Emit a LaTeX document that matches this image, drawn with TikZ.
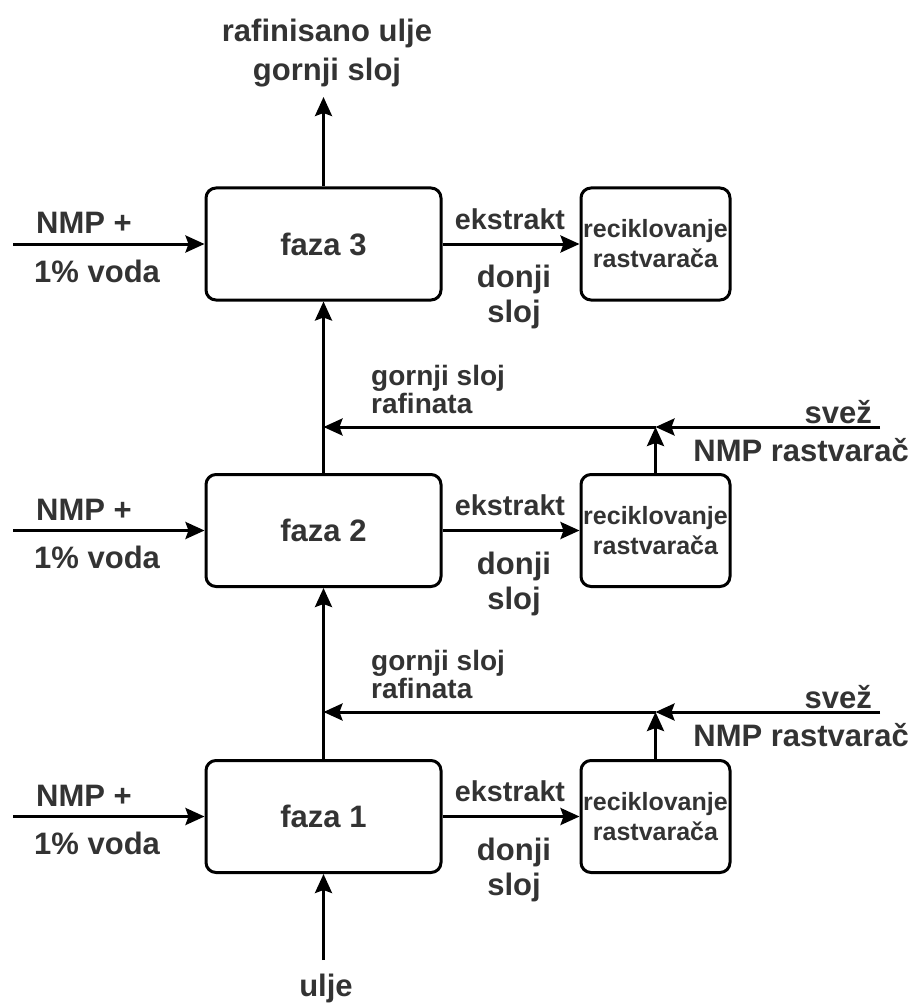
\documentclass[tikz,border=0pt]{standalone}
\usepackage{fontspec}
\setmainfont{Liberation Sans}
\usetikzlibrary{arrows.meta}
\definecolor{txt}{RGB}{51,51,51}
\begin{document}
\begin{tikzpicture}[x=1pt,y=-1pt,
  stage/.style={draw, line width=3pt, rounded corners=10pt, minimum width=235pt, minimum height=112pt, inner sep=0pt, text=txt, font=\bfseries\fontsize{31}{36}\selectfont},
  rec/.style={draw, line width=3pt, rounded corners=10pt, minimum width=149pt, minimum height=112pt, inner sep=0pt, align=center, text=txt, font=\bfseries\fontsize{25}{30}\selectfont},
  flow/.style={line width=3pt, -{Stealth[length=19pt,width=17pt,inset=3pt]}},
  lbl/.style={text=txt, inner sep=0pt, font=\bfseries\fontsize{31}{35}\selectfont},
  lbls/.style={text=txt, inner sep=0pt, font=\bfseries\fontsize{28}{28}\selectfont}]
\useasboundingbox (0,0) rectangle (911,1003);

% stages
\node[stage] (f3) at (323.5,244) {faza 3};
\node[stage] (f2) at (323.5,530.5) {faza 2};
\node[stage] (f1) at (323.5,816.5) {faza 1};
\node[rec] (r3) at (655.5,244) {reciklovanje\\rastvarača};
\node[rec] (r2) at (655.5,530.5) {reciklovanje\\rastvarača};
\node[rec] (r1) at (655.5,816.5) {reciklovanje\\rastvarača};

% free ends
\coordinate (out) at (323.5,97);
\coordinate (oil) at (323.5,960);
\coordinate (in3) at (13,244);
\coordinate (in2) at (13,530.5);
\coordinate (in1) at (13,816.5);
\coordinate (j2) at (655.5,427);
\coordinate (j1) at (655.5,712);
\coordinate (s2) at (880,427);
\coordinate (s1) at (880,712);

% connectors
\draw[flow] (f3.north) -- (out);
\draw[flow] (f2.north) -- (f3.south);
\draw[flow] (f1.north) -- (f2.south);
\draw[flow] (oil) -- (f1.south);
\draw[flow] (in3) -- (f3.west);
\draw[flow] (in2) -- (f2.west);
\draw[flow] (in1) -- (f1.west);
\draw[flow] (f3.east) -- (r3.west);
\draw[flow] (f2.east) -- (r2.west);
\draw[flow] (f1.east) -- (r1.west);
\draw[flow] (s2) -- (j2);
\draw[flow] (s1) -- (j1);
\draw[flow] (r2.north) -- (j2);
\draw[flow] (r1.north) -- (j1);
\draw[flow] (j2) -- (j2 -| f2.north);
\draw[flow] (j1) -- (j1 -| f1.north);

% labels
\node[lbl, align=center, font=\bfseries\fontsize{31}{39}\selectfont] (top) at (327,53) {rafinisano ulje\\gornji sloj};
\node[lbl] (ulje) at (326,988) {ulje};

\node[lbl, anchor=west] (n3) at (36,223) {NMP +};
\node[lbl, anchor=west] (v3) at (34,271) {1\% voda};
\node[lbl, anchor=west] (n2) at (36,509.5) {NMP +};
\node[lbl, anchor=west] (v2) at (34,557.5) {1\% voda};
\node[lbl, anchor=west] (n1) at (36,795.5) {NMP +};
\node[lbl, anchor=west] (v1) at (34,843.5) {1\% voda};

\node[lbls, font=\bfseries\fontsize{28.7}{30}\selectfont] (e3) at (510,219) {ekstrakt};
\node[lbls, font=\bfseries\fontsize{28.7}{30}\selectfont] (e2) at (510,505.5) {ekstrakt};
\node[lbls, font=\bfseries\fontsize{28.7}{30}\selectfont] (e1) at (510,791.5) {ekstrakt};

\node[lbl, align=center] (d3) at (514,297) {donji\\sloj};
\node[lbl, align=center] (d2) at (514,583.5) {donji\\sloj};
\node[lbl, align=center] (d1) at (514,869.5) {donji\\sloj};

\node[lbls, align=left, anchor=west] (g2) at (371,389) {gornji sloj\\rafinata};
\node[lbls, align=left, anchor=west] (g1) at (371,674) {gornji sloj\\rafinata};

\node[lbl, anchor=east] (sv2) at (872,412) {svež};
\node[lbl, anchor=east] (nr2) at (909,450) {NMP rastvarač};
\node[lbl, anchor=east] (sv1) at (872,697) {svež};
\node[lbl, anchor=east] (nr1) at (909,735) {NMP rastvarač};
\end{tikzpicture}
\end{document}
